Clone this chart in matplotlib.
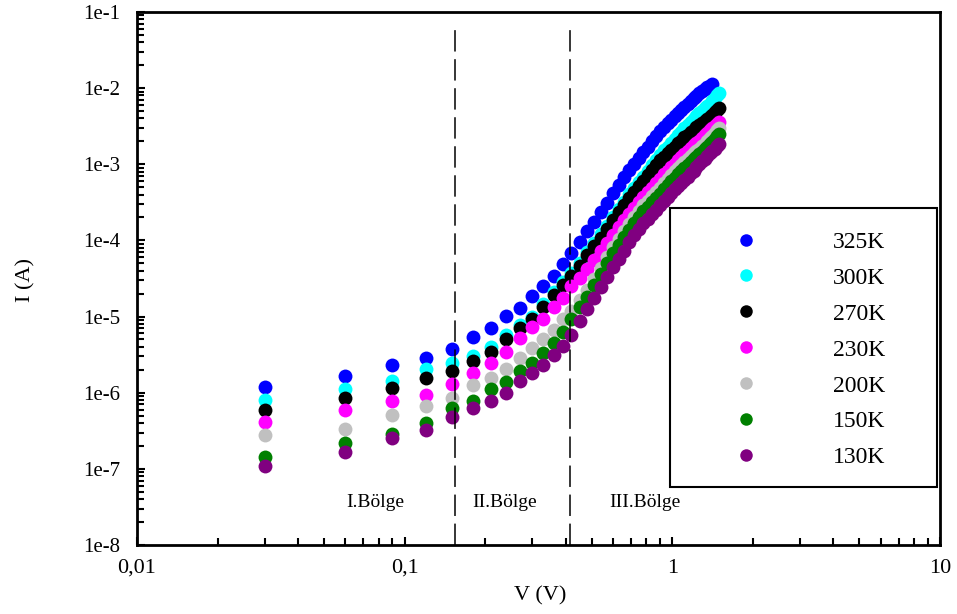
import matplotlib
matplotlib.use('Agg')
import matplotlib.pyplot as plt
from matplotlib.ticker import LogLocator, FixedLocator, FixedFormatter, NullFormatter
from matplotlib.patches import Rectangle

plt.rcParams['font.family'] = ['Liberation Serif', 'DejaVu Serif']

# applied bias (V)
V = [0.03, 0.06, 0.09, 0.12, 0.15, 0.18, 0.21, 0.24, 0.27, 0.30,
     0.33, 0.36, 0.39, 0.42, 0.45, 0.48, 0.51, 0.54, 0.57, 0.60,
     0.63, 0.66, 0.69, 0.72, 0.75, 0.78, 0.81, 0.84, 0.87, 0.90,
     0.93, 0.96, 0.99, 1.02, 1.05, 1.08, 1.11, 1.14, 1.17, 1.20,
     1.23, 1.26, 1.29, 1.32, 1.35, 1.38, 1.41, 1.44, 1.47, 1.50]

# current (A) at each temperature
I_325 = [1.19e-6, 1.66e-6, 2.31e-6, 2.86e-6, 3.75e-6, 5.38e-6, 7.08e-6, 1.02e-5, 1.29e-5, 1.86e-5,
         2.52e-5, 3.41e-5, 4.90e-5, 6.84e-5, 9.53e-5, 1.33e-4, 1.77e-4, 2.36e-4, 3.10e-4, 4.20e-4,
         5.35e-4, 6.81e-4, 8.41e-4, 1.01e-3, 1.21e-3, 1.45e-3, 1.71e-3, 2.02e-3, 2.35e-3, 2.74e-3,
         3.09e-3, 3.44e-3, 3.82e-3, 4.25e-3, 4.71e-3, 5.16e-3, 5.65e-3, 6.19e-3, 6.78e-3, 7.31e-3,
         7.89e-3, 8.51e-3, 9.04e-3, 9.60e-3, 1.02e-2, 1.08e-2, 1.13e-2]
I_300 = [8.02e-7, 1.12e-6, 1.43e-6, 2.05e-6, 2.45e-6, 3.03e-6, 3.98e-6, 5.73e-6, 7.74e-6, 9.87e-6,
         1.46e-5, 2.10e-5, 2.84e-5, 3.73e-5, 5.05e-5, 7.05e-5, 9.12e-5, 1.20e-4, 1.55e-4, 2.03e-4,
         2.59e-4, 3.24e-4, 4.01e-4, 4.81e-4, 5.85e-4, 6.90e-4, 8.28e-4, 9.77e-4, 1.14e-3, 1.34e-3,
         1.52e-3, 1.71e-3, 1.90e-3, 2.15e-3, 2.43e-3, 2.65e-3, 2.95e-3, 3.23e-3, 3.59e-3, 3.94e-3,
         4.25e-3, 4.65e-3, 5.01e-3, 5.41e-3, 5.82e-3, 6.28e-3, 6.78e-3, 7.41e-3, 8.13e-3, 8.63e-3]
I_270 = [5.93e-7, 8.51e-7, 1.15e-6, 1.56e-6, 1.93e-6, 2.61e-6, 3.42e-6, 5.07e-6, 7.08e-6, 9.29e-6,
         1.33e-5, 1.92e-5, 2.60e-5, 3.41e-5, 4.61e-5, 6.43e-5, 8.32e-5, 1.09e-4, 1.41e-4, 1.85e-4,
         2.36e-4, 2.96e-4, 3.61e-4, 4.33e-4, 5.19e-4, 6.12e-4, 7.23e-4, 8.41e-4, 9.77e-4, 1.14e-3,
         1.26e-3, 1.41e-3, 1.54e-3, 1.71e-3, 1.90e-3, 2.05e-3, 2.25e-3, 2.43e-3, 2.65e-3, 2.86e-3,
         3.04e-3, 3.28e-3, 3.48e-3, 3.70e-3, 3.94e-3, 4.18e-3, 4.44e-3, 4.79e-3, 5.16e-3, 5.48e-3]
I_230 = [4.12e-7, 5.93e-7, 7.78e-7, 9.33e-7, 1.30e-6, 1.84e-6, 2.45e-6, 3.42e-6, 5.22e-6, 7.29e-6,
         9.29e-6, 1.33e-5, 1.75e-5, 2.52e-5, 3.21e-5, 4.22e-5, 5.53e-5, 7.26e-5, 9.25e-5, 1.18e-4,
         1.48e-4, 1.83e-4, 2.22e-4, 2.67e-4, 3.20e-4, 3.72e-4, 4.33e-4, 4.95e-4, 5.68e-4, 6.50e-4,
         7.35e-4, 8.28e-4, 9.20e-4, 1.02e-3, 1.14e-3, 1.25e-3, 1.36e-3, 1.49e-3, 1.64e-3, 1.77e-3,
         1.90e-3, 2.05e-3, 2.21e-3, 2.39e-3, 2.58e-3, 2.78e-3, 2.95e-3, 3.18e-3, 3.38e-3, 3.59e-3]
I_200 = [2.81e-7, 3.37e-7, 5.05e-7, 6.68e-7, 8.43e-7, 1.26e-6, 1.55e-6, 2.03e-6, 2.83e-6, 3.83e-6,
         5.02e-6, 6.65e-6, 9.29e-6, 1.18e-5, 1.65e-5, 2.23e-5, 3.11e-5, 4.35e-5, 6.05e-5, 8.18e-5,
         1.04e-4, 1.33e-4, 1.64e-4, 2.00e-4, 2.43e-4, 2.88e-4, 3.30e-4, 3.78e-4, 4.33e-4, 4.95e-4,
         5.68e-4, 6.41e-4, 7.23e-4, 8.04e-4, 8.93e-4, 9.77e-4, 1.07e-3, 1.17e-3, 1.29e-3, 1.39e-3,
         1.49e-3, 1.61e-3, 1.74e-3, 1.87e-3, 2.02e-3, 2.18e-3, 2.35e-3, 2.58e-3, 2.78e-3, 2.99e-3]
I_150 = [1.44e-7, 2.18e-7, 2.84e-7, 3.96e-7, 6.30e-7, 7.85e-7, 1.11e-6, 1.37e-6, 1.95e-6, 2.48e-6,
         3.29e-6, 4.54e-6, 6.32e-6, 9.29e-6, 1.32e-5, 1.81e-5, 2.60e-5, 3.62e-5, 5.05e-5, 6.84e-5,
         8.71e-5, 1.11e-4, 1.37e-4, 1.67e-4, 2.03e-4, 2.40e-4, 2.75e-4, 3.15e-4, 3.61e-4, 4.13e-4,
         4.73e-4, 5.35e-4, 6.03e-4, 6.70e-4, 7.45e-4, 8.16e-4, 8.93e-4, 9.77e-4, 1.07e-3, 1.16e-3,
         1.26e-3, 1.36e-3, 1.47e-3, 1.59e-3, 1.71e-3, 1.85e-3, 1.99e-3, 2.15e-3, 2.32e-3, 2.50e-3]
I_130 = [1.10e-7, 1.68e-7, 2.52e-7, 3.24e-7, 4.75e-7, 6.30e-7, 7.85e-7, 9.82e-7, 1.44e-6, 1.80e-6,
         2.31e-6, 3.13e-6, 4.14e-6, 5.73e-6, 8.75e-6, 1.26e-5, 1.75e-5, 2.44e-5, 3.30e-5, 4.48e-5,
         5.70e-5, 7.26e-5, 9.53e-5, 1.18e-4, 1.41e-4, 1.67e-4, 1.91e-4, 2.19e-4, 2.51e-4, 2.88e-4,
         3.30e-4, 3.72e-4, 4.20e-4, 4.67e-4, 5.19e-4, 5.68e-4, 6.21e-4, 6.90e-4, 7.57e-4, 8.28e-4,
         9.08e-4, 9.93e-4, 1.09e-3, 1.17e-3, 1.29e-3, 1.39e-3, 1.49e-3, 1.61e-3, 1.74e-3, 1.85e-3]

labels = ['325K', '300K', '270K', '230K', '200K', '150K', '130K']
colors = ['#0000FF', '#00FFFF', '#000000', '#FF00FF', '#C0C0C0', '#008000', '#800080']
currents = [I_325, I_300, I_270, I_230, I_200, I_150, I_130]

# region borders (V) and names
borders = [0.154, 0.415]
regions = ['I.Bölge', 'II.Bölge', 'III.Bölge']
region_x = [0.0775, 0.237, 0.79]

xticks = [0.01, 0.1, 1, 10]
xtick_labels = ['0,01', '0,1', '1', '10']
yticks = [1e-8, 1e-7, 1e-6, 1e-5, 1e-4, 1e-3, 1e-2, 1e-1]
ytick_labels = ['1e-8', '1e-7', '1e-6', '1e-5', '1e-4', '1e-3', '1e-2', '1e-1']

fig = plt.figure(figsize=(9.57, 6.14), dpi=100)
ax = fig.add_axes([0.1432, 0.1124, 0.8390, 0.8681])

for cur, col, lab in zip(currents, colors, labels):
    ax.plot(V[:len(cur)], cur, 'o', ms=10, mew=0, color=col, label=lab)

ax.set_xscale('log')
ax.set_yscale('log')
ax.set_xlim(0.01, 10)
ax.set_ylim(1e-8, 1e-1)

ax.xaxis.set_major_locator(FixedLocator(xticks))
ax.xaxis.set_major_formatter(FixedFormatter(xtick_labels))
ax.yaxis.set_major_locator(FixedLocator(yticks))
ax.yaxis.set_major_formatter(FixedFormatter(ytick_labels))
ax.xaxis.set_minor_locator(LogLocator(base=10, subs=range(2, 10), numticks=20))
ax.yaxis.set_minor_locator(LogLocator(base=10, subs=range(2, 10), numticks=20))
ax.xaxis.set_minor_formatter(NullFormatter())
ax.yaxis.set_minor_formatter(NullFormatter())

ax.tick_params(which='both', direction='in', top=False, right=False, width=1.5)
ax.tick_params(which='major', length=6)
ax.tick_params(which='minor', length=5)
ax.tick_params(axis='x', labelsize=16, pad=10)
ax.tick_params(axis='y', labelsize=15, pad=12)
for sp in ax.spines.values():
    sp.set_linewidth(2)

ax.set_xlabel('V (V)', fontsize=16)
ax.set_ylabel('I (A)', fontsize=16)
ax.xaxis.set_label_coords(0.502, -0.078)
ax.yaxis.set_label_coords(-0.126, 0.497)

for b in borders:
    ax.axvline(b, ymin=0, ymax=0.968, color='black', lw=1.1, ls=(0, (14, 5)))
for name, xr in zip(regions, region_x):
    ax.text(xr, 3.6e-8, name, ha='center', va='center', fontsize=14)

# legend box
ax.add_patch(Rectangle((0.6638, 0.1088), 0.3325, 0.5235, transform=ax.transAxes,
                       facecolor='white', edgecolor='black', lw=1.5, zorder=3))
ax.legend(loc='upper left', bbox_to_anchor=(0.7287, 0.6107), frameon=False,
          fontsize=17, borderpad=0, handlelength=1.0, handletextpad=3.2,
          labelspacing=0.61, markerscale=0.9).set_zorder(4)

fig.savefig('out.png', dpi=100)
